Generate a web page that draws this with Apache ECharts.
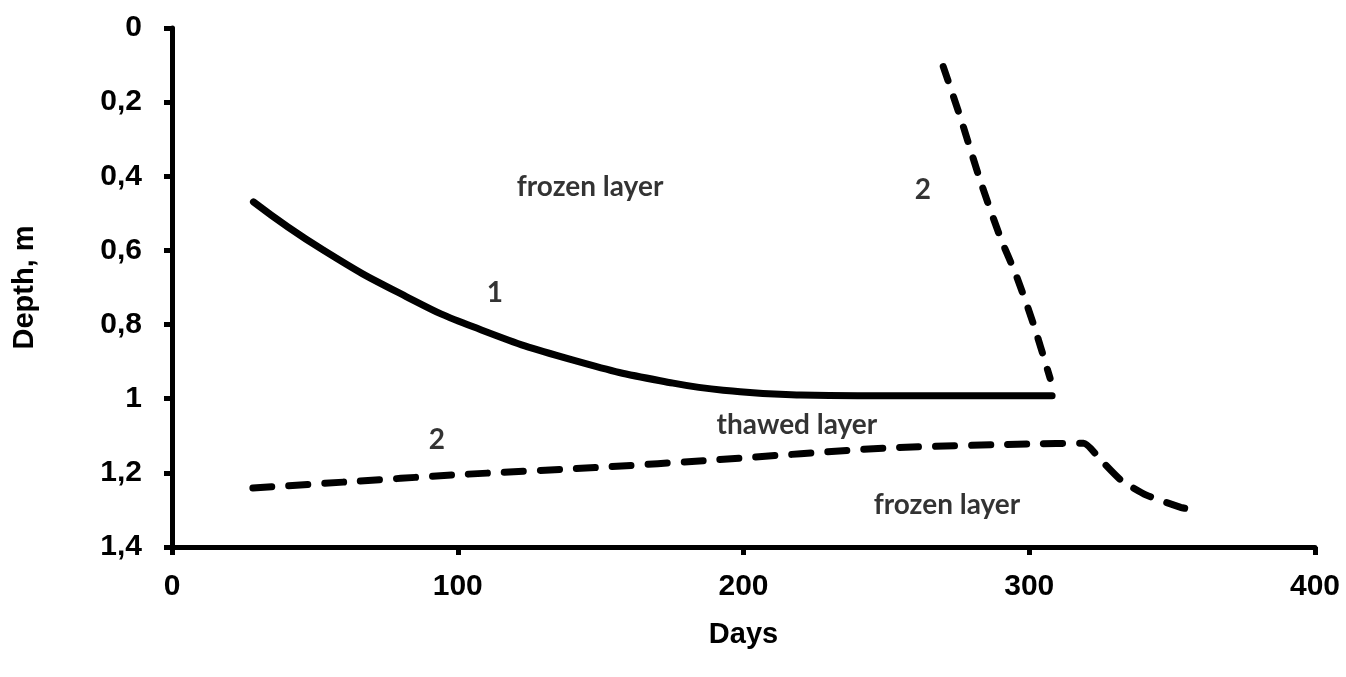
<!DOCTYPE html>
<html>
<head>
<meta charset="utf-8">
<script src="https://cdn.jsdelivr.net/npm/echarts@6/dist/echarts.min.js"></script>
<style>
  html, body { margin: 0; padding: 0; background: #fff; }
  #chart { width: 1346px; height: 677px; }
</style>
</head>
<body>
<div id="chart"></div>
<script>
// curve 1 - solid (day, depth m)
const curve1Days = [28.5, 52.9, 82.1, 105.4, 140.4, 175.4, 198.8, 220, 240, 308]
const curve1Depth = [0.469, 0.599, 0.725, 0.806, 0.896, 0.958, 0.981, 0.99, 0.992, 0.992]

// curve 2 - lower dashed
const curve2Days = [28.3, 60, 100, 150, 190, 250, 300, 319, 325, 332, 341, 353, 356]
const curve2Depth = [1.241, 1.225, 1.205, 1.185, 1.165, 1.133, 1.122, 1.12, 1.165, 1.219, 1.26, 1.293, 1.298]

// curve 2 - upper dashed
const curve2TopDays = [269.9, 275.8, 282.8, 289.8, 295.6, 301.4, 307.3]
const curve2TopDepth = [0.104, 0.239, 0.41, 0.563, 0.671, 0.797, 0.945]

// annotations: [day, depth, text]
const notes = [
  [146.3, 0.429, 'frozen layer'],
  [113, 0.715, '1'],
  [262.8, 0.437, '2'],
  [218.7, 1.071, 'thawed layer'],
  [92.7, 1.111, '2'],
  [271.2, 1.287, 'frozen layer']
]

const xTicks = { min: 0, max: 400, step: 100 }
const yTicks = { min: 0, max: 1.4, step: 0.2 }

const zip = (a, b) => a.map((v, i) => [v, b[i]])

const chart = echarts.init(document.getElementById('chart'))

const tickFont = { fontFamily: 'Liberation Sans', fontWeight: 'bold', fontSize: 30, color: '#000' }

chart.setOption({
  animation: false,
  grid: { left: 172, right: 31, top: 28, bottom: 130 },
  xAxis: {
    type: 'value', position: 'bottom',
    min: xTicks.min, max: xTicks.max, interval: xTicks.step,
    name: 'Days', nameLocation: 'middle', nameGap: 73,
    nameTextStyle: { fontFamily: 'Liberation Sans', fontWeight: 'bold', fontSize: 29, color: '#000' },
    axisLine: { onZero: false, lineStyle: { color: '#000', width: 5 } },
    axisTick: { show: true, length: 8, lineStyle: { color: '#000', width: 5 } },
    axisLabel: Object.assign({ margin: 25 }, tickFont),
    splitLine: { show: false }
  },
  yAxis: {
    type: 'value', inverse: true,
    min: yTicks.min, max: yTicks.max, interval: yTicks.step,
    name: 'Depth, m', nameLocation: 'middle', nameGap: 133, nameRotate: 90,
    nameTextStyle: { fontFamily: 'Liberation Sans', fontWeight: 'bold', fontSize: 29, color: '#000' },
    axisLine: { show: true, onZero: false, lineStyle: { color: '#000', width: 5 } },
    axisTick: { show: true, length: 8, lineStyle: { color: '#000', width: 5 } },
    axisLabel: Object.assign({
      margin: 30,
      formatter: v => String(+v.toFixed(1)).replace('.', ',')
    }, tickFont),
    splitLine: { show: false }
  },
  series: [
    {
      type: 'line', data: zip(curve1Days, curve1Depth), smooth: 0.5, symbol: 'none',
      lineStyle: { color: '#000', width: 7, cap: 'round' }
    },
    {
      type: 'line', data: zip(curve2Days, curve2Depth), smooth: 0.2, symbol: 'none',
      lineStyle: { color: '#000', width: 7, type: [19, 17], cap: 'round' }
    },
    {
      type: 'line', data: zip(curve2TopDays, curve2TopDepth), smooth: 0.3, symbol: 'none',
      lineStyle: { color: '#000', width: 7, type: [15, 17], cap: 'round' }
    },
    {
      type: 'scatter', symbolSize: 0, silent: true,
      data: notes.map(n => ({
        value: [n[0], n[1]],
        label: {
          show: true, position: 'inside', formatter: n[2],
          fontFamily: 'Lato', fontWeight: 'bold', fontSize: 28, color: '#000'
        }
      }))
    }
  ]
})
</script>
</body>
</html>
